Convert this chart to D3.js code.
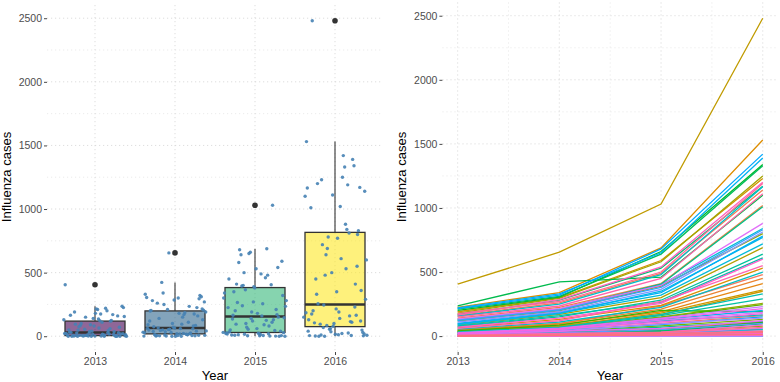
<!DOCTYPE html>
<html>
<head>
<meta charset="utf-8">
<script src="https://cdn.jsdelivr.net/npm/d3@7"></script>
<style>
  body { margin: 0; background: #fff; }
  text { font-family: "Liberation Sans", Arial, sans-serif; }
</style>
</head>
<body>
<svg id="chart" width="780" height="382"></svg>
<script>
// Years and tick labels
const years = [2013, 2014, 2015, 2016];
const yTicks = [0, 500, 1000, 1500, 2000, 2500];

// Influenza cases per region (same region at the same index in every year)
const cases2013 = [16,48,160,140,50,45,3,225,65,190,35,38,405,9,85,0,180,30,118,5,12,2,25,0,40,10,200,4,236,210,6,170,1,130,11,75,28,80,32,18,55,155,122,95,3,90,22,220,100,17,215,0,125,8,0,110,0,2,15,0,27,4,20,135,1,13,24,21,0,7,70,1,165,60,150,3,175,5,2,0];
const cases2014 = [42,95,260,225,100,90,11,340,130,300,75,80,655,28,170,3,295,64,198,19,35,7,60,1,85,30,305,15,423,310,20,280,5,210,32,150,66,160,70,48,110,250,205,180,12,175,55,330,185,45,320,0,202,25,2,190,0,6,40,0,62,14,50,215,5,38,58,52,1,22,140,8,285,120,235,10,270,17,9,4];
const cases2015 = [100,235,490,410,210,190,17,688,240,590,180,165,1030,55,300,6,580,150,390,35,80,15,145,3,200,45,660,22,460,640,40,530,10,405,70,280,160,265,170,120,225,480,400,320,24,350,130,650,340,90,680,0,380,50,2,365,0,14,95,1,140,26,125,395,5,60,135,110,4,30,255,12,540,270,450,20,500,28,19,8];
const cases2016 = [160,480,1140,1020,450,410,35,1530,530,1230,360,350,2480,110,690,8,1250,255,800,78,130,25,245,3,190,105,1340,55,1100,1330,95,1170,15,1010,115,640,290,610,330,165,500,1165,840,720,48,770,200,1390,780,150,1420,0,830,100,5,812,0,18,140,2,230,60,185,880,10,120,215,175,6,85,600,22,1200,550,1110,40,1190,68,30,12];

const casesByYear = [cases2013, cases2014, cases2015, cases2016];
const boxFill = ['#440154', '#31688E', '#35B779', '#FDE725'];

const svg = d3.select('#chart');
const nRegions = cases2013.length;

// shared y extent with ggplot-like 5% padding
const yMax = d3.max(casesByYear, v => d3.max(v));
const pad = yMax * 0.05;

const gridMajor = '#d4d4d4';
const gridMinor = '#e6e6e6';
const minorY = d3.pairs(yTicks).map(([a, b]) => (a + b) / 2);

const drawGrid = (g, xs, ys, x0, x1, y0, y1) => {
  g.selectAll(null).data(ys).join('line')
    .attr('x1', x0).attr('x2', x1)
    .attr('y1', d => d.y).attr('y2', d => d.y)
    .attr('stroke', d => d.minor ? gridMinor : gridMajor)
    .attr('stroke-width', 0.8)
    .attr('stroke-dasharray', '1.2,2.8');
  g.selectAll(null).data(xs).join('line')
    .attr('y1', y0).attr('y2', y1)
    .attr('x1', d => d.x).attr('x2', d => d.x)
    .attr('stroke', d => d.minor ? gridMinor : gridMajor)
    .attr('stroke-width', 0.8)
    .attr('stroke-dasharray', '1.2,2.8');
};

const styleAxis = (g) => {
  g.select('.domain').remove();
  g.selectAll('.tick line').attr('stroke', '#333').attr('stroke-width', 0.9);
  g.selectAll('.tick text').attr('fill', '#4d4d4d').style('font-size', '10.5px')
    .style('font-family', '"Liberation Sans", Arial, sans-serif');
};

const axisTitles = (cx, yTitleX, bottom) => {
  svg.append('text')
    .attr('x', cx).attr('y', bottom)
    .attr('text-anchor', 'middle')
    .style('font-size', '13px').attr('fill', '#000')
    .text('Year');
  svg.append('text')
    .attr('transform', `translate(${yTitleX},177) rotate(-90)`)
    .attr('text-anchor', 'middle')
    .style('font-size', '13px').attr('fill', '#000')
    .text('Influenza cases');
};

// ggplot's default hue palette uses polar LUV (R's hcl()), not Lab
const hclLuv = (h, c, l) => {
  const un = 0.1978398, vn = 0.4683363;
  const hr = h * Math.PI / 180;
  const u = c * Math.cos(hr), v = c * Math.sin(hr);
  const Y = l > 8 ? Math.pow((l + 16) / 116, 3) : l / 903.3;
  const up = u / (13 * l) + un, vp = v / (13 * l) + vn;
  const X = Y * 9 * up / (4 * vp);
  const Z = Y * (12 - 3 * up - 20 * vp) / (4 * vp);
  const lin = [
    3.240479 * X - 1.537150 * Y - 0.498535 * Z,
    -0.969256 * X + 1.875992 * Y + 0.041556 * Z,
    0.055648 * X - 0.204043 * Y + 1.057311 * Z
  ];
  const gam = t => t <= 0.0031308 ? 12.92 * t : 1.055 * Math.pow(t, 1 / 2.4) - 0.055;
  const [r, g, b] = lin.map(t => Math.round(Math.max(0, Math.min(1, gam(t))) * 255));
  return d3.rgb(r, g, b).formatHex();
};

// ---------- left panel: boxplots with jittered points ----------
const xL = d3.scaleLinear().domain([0.4, years.length + 0.6]).range([47, 383]);
const yL = d3.scaleLinear().domain([-pad, yMax + pad]).range([352, 5]);

const left = svg.append('g');
drawGrid(left,
  years.map((d, i) => ({ x: xL(i + 1) })),
  yTicks.map(v => ({ y: yL(v) })).concat(minorY.map(v => ({ y: yL(v), minor: true }))),
  47, 383, 5, 352);

const boxStats = (vals) => {
  const s = vals.slice().sort(d3.ascending);
  const q1 = d3.quantile(s, 0.25), med = d3.quantile(s, 0.5), q3 = d3.quantile(s, 0.75);
  const iqr = q3 - q1;
  const lo = d3.min(s.filter(v => v >= q1 - 1.5 * iqr));
  const hi = d3.max(s.filter(v => v <= q3 + 1.5 * iqr));
  const out = s.filter(v => v < lo || v > hi);
  return { q1, med, q3, lo, hi, out };
};

const halfW = (xL(1.375) - xL(1));
years.forEach((yr, i) => {
  const st = boxStats(casesByYear[i]);
  const cx = xL(i + 1);
  const bg = left.append('g');
  bg.append('line')
    .attr('x1', cx).attr('x2', cx).attr('y1', yL(st.q3)).attr('y2', yL(st.hi))
    .attr('stroke', '#333').attr('stroke-width', 1.1);
  bg.append('line')
    .attr('x1', cx).attr('x2', cx).attr('y1', yL(st.q1)).attr('y2', yL(st.lo))
    .attr('stroke', '#333').attr('stroke-width', 1.1);
  bg.append('rect')
    .attr('x', cx - halfW).attr('width', halfW * 2)
    .attr('y', yL(st.q3)).attr('height', yL(st.q1) - yL(st.q3))
    .attr('fill', boxFill[i]).attr('fill-opacity', 0.6)
    .attr('stroke', '#333').attr('stroke-width', 1.3);
  bg.append('line')
    .attr('x1', cx - halfW).attr('x2', cx + halfW)
    .attr('y1', yL(st.med)).attr('y2', yL(st.med))
    .attr('stroke', '#333').attr('stroke-width', 2.6);
  bg.selectAll('circle').data(st.out).join('circle')
    .attr('cx', cx).attr('cy', d => yL(d)).attr('r', 2.8)
    .attr('fill', '#333');
});

// jitter: deterministic golden-ratio offsets inside +-0.4 of the category
const phi = 0.6180339887;
years.forEach((yr, i) => {
  left.append('g').selectAll('circle')
    .data(casesByYear[i])
    .join('circle')
    .attr('cx', (d, k) => xL(i + 1 + ((((k + 1) * phi + i * 0.37) % 1) - 0.5) * 0.8))
    .attr('cy', d => yL(d))
    .attr('r', 1.7)
    .attr('fill', '#4682B4')
    .attr('fill-opacity', 0.9);
});

left.append('g')
  .attr('transform', 'translate(47,0)')
  .call(d3.axisLeft(yL).tickValues(yTicks).tickFormat(d3.format('d')).tickSize(3).tickPadding(2))
  .call(styleAxis);
left.append('g')
  .attr('transform', 'translate(0,352)')
  .call(d3.axisBottom(xL).tickValues(years.map((d, i) => i + 1))
    .tickFormat((d) => years[d - 1]).tickSize(3).tickPadding(3))
  .call(styleAxis);
axisTitles(215, 11, 380);

// ---------- right panel: one line per region ----------
const xR = d3.scaleLinear()
  .domain([years[0] - 0.15, years[years.length - 1] + 0.15]).range([442.4, 778]);
const yR = d3.scaleLinear().domain([-pad, yMax + pad]).range([352, 2.4]);

const right = svg.append('g');
drawGrid(right,
  years.map(v => ({ x: xR(v) })).concat(d3.pairs(years).map(([a, b]) => ({ x: xR((a + b) / 2), minor: true }))),
  yTicks.map(v => ({ y: yR(v) })).concat(minorY.map(v => ({ y: yR(v), minor: true }))),
  442.4, 778, 2.4, 352);

const regions = d3.range(nRegions).map(k => years.map((yr, i) => ({ year: yr, value: casesByYear[i][k] })));
const hue = (k) => hclLuv(15 + 360 * k / nRegions, 100, 65);

const line = d3.line().x(d => xR(d.year)).y(d => yR(d.value));
right.append('g').selectAll('path')
  .data(regions)
  .join('path')
  .attr('d', line)
  .attr('fill', 'none')
  .attr('stroke', (d, k) => hue(k))
  .attr('stroke-width', 1.3);

right.append('g')
  .attr('transform', 'translate(442.4,0)')
  .call(d3.axisLeft(yR).tickValues(yTicks).tickFormat(d3.format('d')).tickSize(3).tickPadding(2))
  .call(styleAxis);
right.append('g')
  .attr('transform', 'translate(0,352)')
  .call(d3.axisBottom(xR).tickValues(years).tickFormat(d3.format('d')).tickSize(3).tickPadding(3))
  .call(styleAxis);
axisTitles(610, 406, 380);
</script>
</body>
</html>
